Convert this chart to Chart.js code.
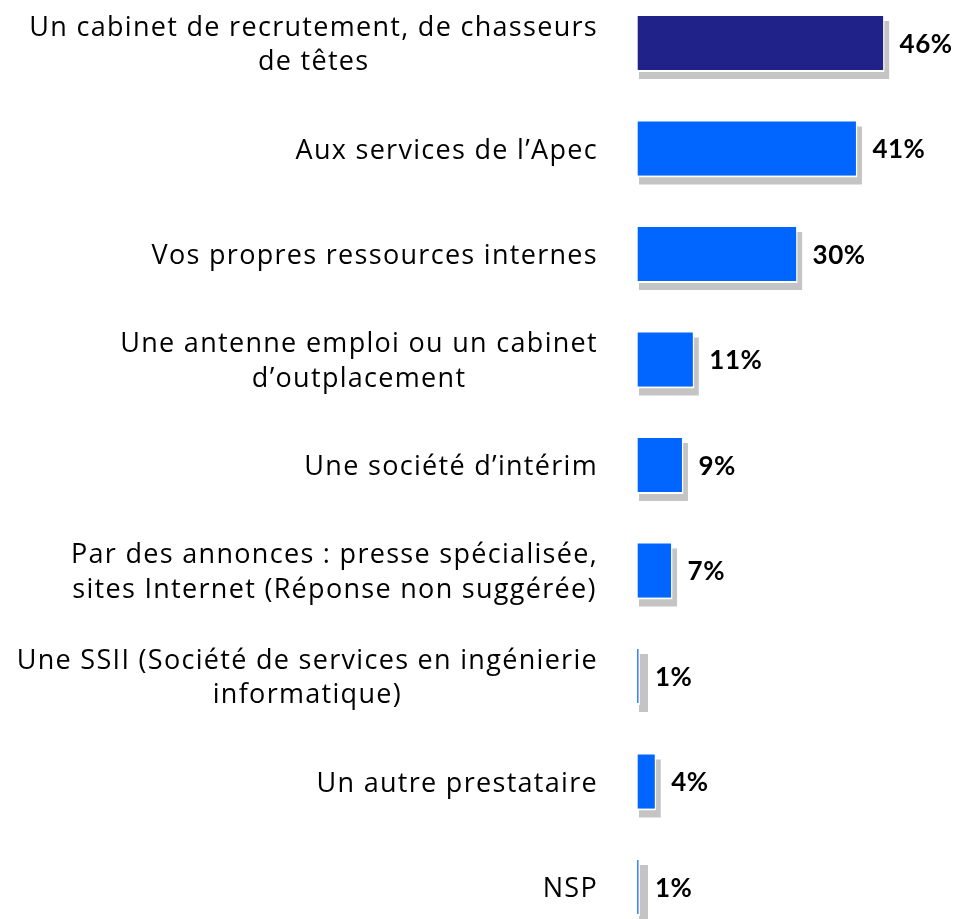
<!DOCTYPE html>
<html>
<head>
<meta charset="utf-8">
<script src="https://cdn.jsdelivr.net/npm/chart.js@4"></script>
<style>
  html, body { margin: 0; padding: 0; background: #fff; }
  #wrap { width: 959px; height: 919px; position: relative; }
</style>
</head>
<body>
<div id="wrap"><canvas id="barChart"></canvas></div>
<script>
// --- DATA ---
const categories = [
  ['Un cabinet de recrutement, de chasseurs', 'de têtes'],
  ['Aux services de l\u2019Apec'],
  ['Vos propres ressources internes'],
  ['Une antenne emploi ou un cabinet', 'd\u2019outplacement'],
  ['Une société d\u2019intérim'],
  ['Par des annonces : presse spécialisée,', 'sites Internet (Réponse non suggérée)'],
  ['Une SSII (Société de services en ingénierie', 'informatique)'],
  ['Un autre prestataire'],
  ['NSP']
];
const values = [46, 41, 30, 11, 9, 7, 1, 4, 1];
const valueLabels = ['46%', '41%', '30%', '11%', '9%', '7%', '1%', '4%', '1%'];

const LABEL_FONT = '27px "Open Sans"';
const VALUE_FONT = 'bold 26px Lato';

// grey drop shadow under each bar
const shadowPlugin = {
  id: 'shadow',
  beforeDatasetsDraw(chart) {
    const ctx = chart.ctx;
    const meta = chart.getDatasetMeta(0);
    ctx.save();
    ctx.fillStyle = '#c4c4c4';
    meta.data.forEach(bar => {
      const p = bar.getProps(['x', 'y', 'base', 'height'], true);
      ctx.fillRect(p.base + 4.5, p.y - p.height / 2 + 7, Math.max(p.x - p.base, 9), p.height);
    });
    ctx.restore();
  }
};

// category text (centered lines, right-aligned block) + value labels
const labelPlugin = {
  id: 'labels',
  afterDatasetsDraw(chart) {
    const ctx = chart.ctx;
    const yScale = chart.scales.y;
    const meta = chart.getDatasetMeta(0);
    const rightEdge = 598, lineH = 34.5;
    ctx.save();
    ctx.fillStyle = '#000';
    ctx.textBaseline = 'alphabetic';
    ctx.font = LABEL_FONT;
    ctx.letterSpacing = '1.3px';
    categories.forEach((lines, i) => {
      const cy = yScale.getPixelForValue(i);
      const w = Math.max(...lines.map(l => ctx.measureText(l).width));
      const cx = rightEdge - w / 2;
      ctx.textAlign = 'center';
      lines.forEach((l, j) => {
        ctx.fillText(l, cx, cy + 10 + (j - (lines.length - 1) / 2) * lineH);
      });
    });
    ctx.letterSpacing = '0.5px';
    ctx.font = VALUE_FONT;
    ctx.textAlign = 'left';
    meta.data.forEach((bar, i) => {
      const p = bar.getProps(['x', 'y'], true);
      ctx.fillText(valueLabels[i], p.x + 15, p.y + 9.5);
    });
    ctx.restore();
  }
};

const ctxBar = document.getElementById('barChart');
const barColors = values.map((v, i) => i === 0 ? '#21218a' : '#0066ff');

new Chart(ctxBar.getContext('2d'), {
  type: 'bar',
  data: {
    labels: categories,
    datasets: [{
      data: values,
      backgroundColor: barColors,
      borderColor: '#ffffff',
      borderWidth: { left: 3.2, right: 1.5, top: 2, bottom: 2 },
      borderSkipped: false,
      inflateAmount: 0,
      barThickness: 58,
      clip: false
    }]
  },
  options: {
    indexAxis: 'y',
    responsive: true,
    maintainAspectRatio: false,
    animation: false,
    layout: { padding: { left: 634.5, right: 3.7, top: 43, bottom: 32 } },
    plugins: { legend: { display: false }, tooltip: { enabled: false } },
    scales: {
      x: { display: false, min: 0, max: 59 },
      y: { display: false, offset: false }
    }
  },
  plugins: [shadowPlugin, labelPlugin]
});
</script>
</body>
</html>
